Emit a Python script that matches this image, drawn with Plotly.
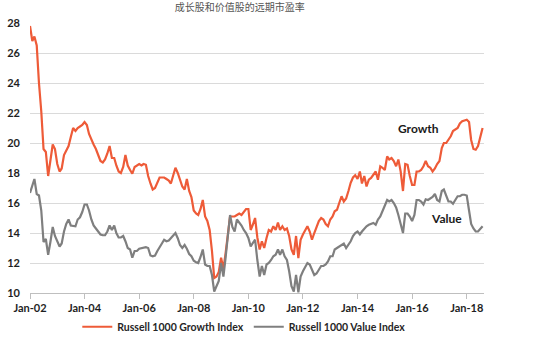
import pandas as pd
import plotly.graph_objects as go

title = "成长股和价值股的远期市盈率"
growth_name = "Russell 1000 Growth Index"
value_name = "Russell 1000 Value Index"
start_month = "2002-01-01"

growth = [
    27.8, 26.8, 27.1, 26.5, 24.0, 22.1, 19.6, 19.4, 17.8, 19.0, 19.9, 19.6,
    18.6, 18.1, 18.3, 19.2, 19.5, 19.8, 20.4, 21.0, 20.8, 21.0, 21.1, 21.2,
    21.4, 21.2, 20.6, 20.2, 19.9, 19.6, 19.2, 18.8, 18.7, 18.9, 19.3, 19.8,
    19.0, 19.0, 18.5, 18.1, 18.0, 18.4, 19.2, 18.5, 18.2, 17.95, 18.4, 18.5,
    18.6, 18.5, 18.6, 18.55, 17.8, 17.3, 16.9, 17.0, 17.4, 17.7, 17.7, 17.7,
    17.6, 17.5, 17.3, 17.8, 18.35, 18.0, 17.5, 17.1, 16.9, 17.6, 16.8, 16.4,
    15.5, 15.3, 15.2, 15.6, 16.2, 15.1, 14.8, 14.2, 12.8, 11.0, 11.1, 11.4,
    12.35, 11.6, 12.6, 14.0, 15.1, 15.1, 15.1, 15.2, 15.3, 15.2, 15.4, 15.6,
    15.6, 14.2, 14.55, 15.0, 13.7, 12.9, 13.45, 13.0, 13.67, 14.2, 14.1, 14.45,
    14.2, 14.7, 14.2, 14.45, 14.2, 14.3, 13.8, 12.9, 12.55, 13.8, 12.33, 13.55,
    13.9, 14.2, 14.45, 14.1, 13.55, 14.0, 14.45, 14.8, 15.0, 14.9, 14.6, 14.45,
    14.9, 15.1, 15.45, 15.55, 16.0, 16.45, 16.1, 16.3, 16.8, 17.35, 17.7, 17.85,
    17.6, 18.1, 17.3, 17.8, 17.1, 17.55, 17.67, 17.9, 18.1, 17.55, 18.45, 18.35,
    18.2, 19.1, 18.9, 19.0, 18.8, 18.45, 18.9, 18.1, 16.8, 18.6, 18.55, 17.8,
    17.2, 17.2, 18.1, 18.1, 18.2, 18.45, 18.8, 18.45, 18.35, 18.1, 18.3, 18.6,
    18.8, 19.67, 20.0, 20.0, 20.2, 20.45, 20.8, 20.9, 21.0, 21.3, 21.45, 21.5,
    21.55, 21.4, 20.2, 19.6, 19.55, 19.8, 20.5, 21.0,
]

value = [
    16.67, 17.2, 17.6, 16.6, 16.5, 15.5, 13.4, 13.6, 12.55, 13.4, 14.4, 13.8,
    13.5, 13.1, 13.3, 14.1, 14.6, 14.9, 14.5, 14.5, 14.45, 14.9, 15.05, 15.4,
    15.9, 15.9, 15.5, 14.9, 14.5, 14.3, 14.1, 13.9, 13.85, 13.85, 14.1, 14.5,
    14.2, 14.5, 14.0, 13.7, 13.7, 13.8, 13.45, 13.0, 12.9, 12.35, 12.8, 12.8,
    12.95, 13.0, 13.05, 13.05, 13.0, 12.5, 12.45, 12.5, 12.8, 13.1, 13.3, 13.55,
    13.45, 13.5, 13.65, 13.8, 14.0, 13.65, 13.2, 13.0, 13.2, 12.95, 12.6, 12.45,
    12.15, 12.05, 12.0, 12.4, 12.9, 11.9, 11.8, 11.8, 11.2, 10.1, 10.4, 10.8,
    12.0, 11.1, 12.3, 14.0, 15.2, 14.4, 14.1, 14.9, 14.7, 14.5, 14.2, 14.0,
    13.67, 13.1, 13.33, 13.55, 12.2, 11.1, 11.8, 11.2, 11.9, 12.0, 12.2, 12.45,
    12.55, 12.9, 12.55, 12.9, 12.45, 12.2, 11.45, 10.45, 10.1, 11.2, 10.05, 11.1,
    11.45, 11.7, 12.0, 11.9, 11.5, 11.2, 11.3, 11.6, 11.8, 11.8, 11.9, 12.1,
    12.45, 12.45, 12.9, 13.0, 13.1, 13.2, 13.3, 13.0, 13.2, 13.45, 13.8, 14.0,
    14.1, 13.9, 14.1, 14.3, 14.45, 14.55, 14.6, 14.67, 14.55, 14.9, 15.1, 15.45,
    15.8, 16.2, 16.1, 16.2, 16.0, 15.7, 15.2, 14.6, 14.0, 15.3, 15.3, 15.1,
    14.8, 15.2, 16.2, 16.2, 16.1, 15.9, 16.25, 16.2, 16.3, 16.4, 16.6, 16.2,
    16.1, 16.8, 16.9, 16.5, 16.1, 16.1, 15.95, 16.2, 16.45, 16.45, 16.55, 16.55,
    16.5, 15.5, 14.6, 14.3, 14.1, 14.1, 14.3, 14.45,
]

labels = ["Growth", "Value"]
label_dates = ["2016-04-01", "2017-04-01"]
label_vals = [20.95, 15.0]

dates = pd.date_range(start_month, periods=len(growth), freq="MS")

GROWTH_C = "#EE5B38"
VALUE_C = "#7F7F7F"
FONT = "Lato, 'Open Sans', sans-serif"

fig = go.Figure()
fig.add_trace(go.Scatter(x=dates, y=growth, mode="lines", name="<b>" + growth_name + "</b>",
                         line=dict(color=GROWTH_C, width=2.2)))
fig.add_trace(go.Scatter(x=dates, y=value, mode="lines", name="<b>" + value_name + "</b>",
                         line=dict(color=VALUE_C, width=2.2)))

for t, d, v in zip(labels, label_dates, label_vals):
    fig.add_annotation(x=d, y=v, text=t, showarrow=False,
                       font=dict(family=FONT, size=12, color="#1a1a1a", weight="bold"))

fig.update_layout(
    width=534, height=338,
    margin=dict(l=30, r=50, t=23, b=45, autoexpand=False),
    paper_bgcolor="white", plot_bgcolor="white",
    title=dict(text=title, x=0.449, xanchor="center", y=0.978, yanchor="middle",
               yref="container", automargin=False,
               font=dict(family="Noto Sans CJK SC", size=10, color="#555555")),
    showlegend=True,
    legend=dict(orientation="h", x=0.472, xanchor="center", y=-0.125, yanchor="middle",
                font=dict(family=FONT, size=10.5, color="#262626"),
                itemwidth=30, tracegroupgap=0, bgcolor="rgba(0,0,0,0)"),
    xaxis=dict(
        type="date", range=["2002-01-01", "2018-08-20"],
        tick0="2002-01-01", dtick="M24", tickformat="%b-%y",
        showgrid=False, showline=True, linecolor="#BFBFBF", linewidth=1,
        ticks="outside", ticklen=5, tickcolor="#BFBFBF",
        tickfont=dict(family=FONT, size=11, color="#1f1f1f", weight="bold"),
        zeroline=False, automargin=False,
    ),
    yaxis=dict(
        range=[10, 28], dtick=2, tick0=10,
        showgrid=True, gridcolor="#DADADA", gridwidth=1,
        zeroline=False, showline=False, ticks="",
        ticklabelstandoff=9, automargin=False,
        tickfont=dict(family=FONT, size=11, color="#1f1f1f", weight="bold"),
    ),
)

fig.write_html("out.html")
